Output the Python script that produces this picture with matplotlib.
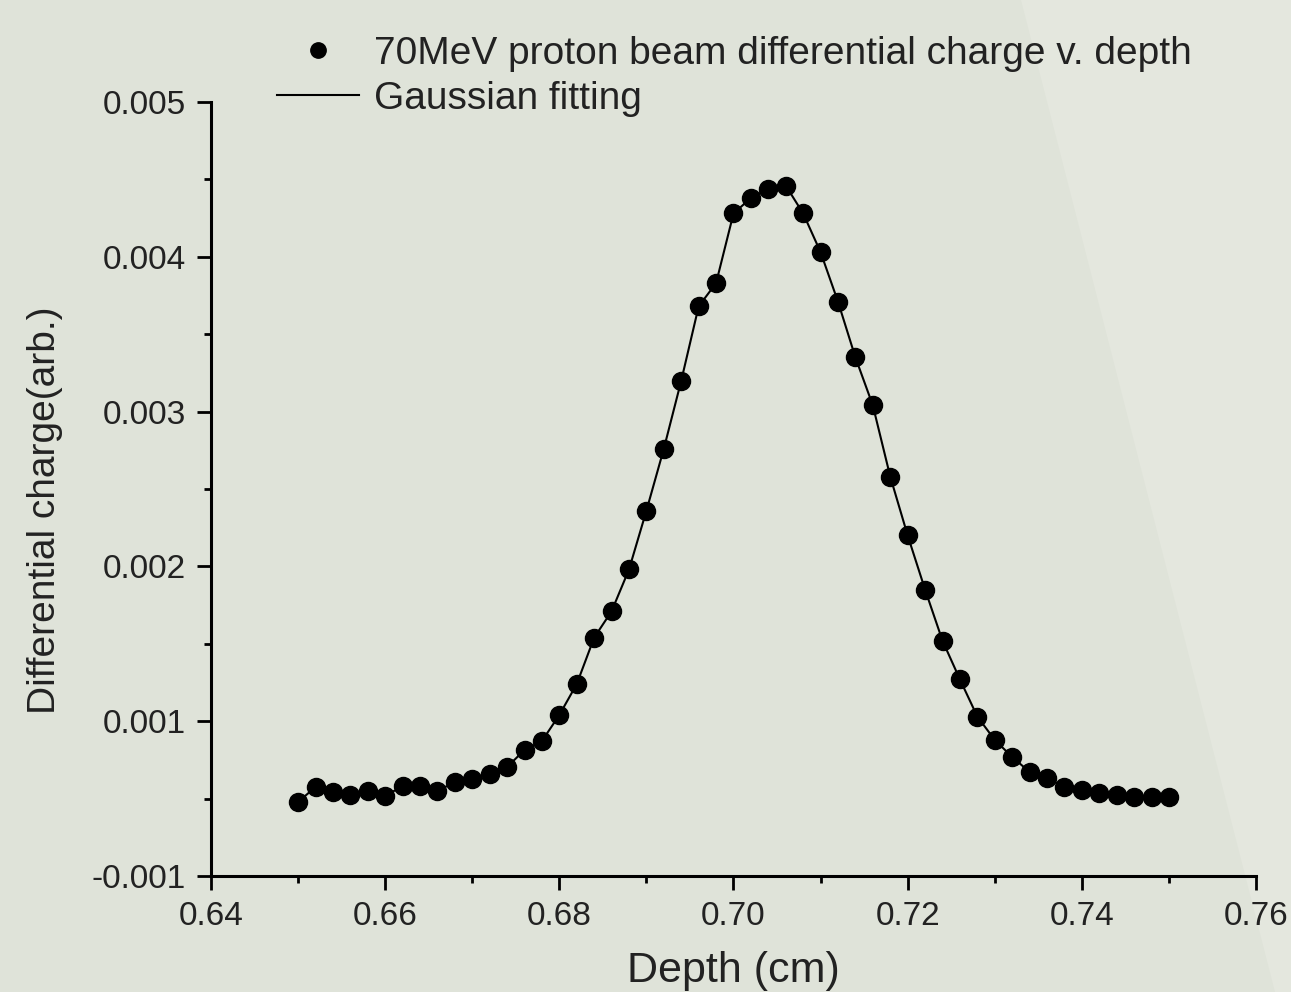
import numpy as np
import matplotlib
matplotlib.use('Agg')
import matplotlib.pyplot as plt
from matplotlib.patches import Polygon

# data
depth = [0.650, 0.652, 0.654, 0.656, 0.658, 0.660, 0.662, 0.664, 0.666, 0.668,
         0.670, 0.672, 0.674, 0.676, 0.678, 0.680, 0.682, 0.684, 0.686, 0.688,
         0.690, 0.692, 0.694, 0.696, 0.698, 0.700, 0.702, 0.704, 0.706, 0.708,
         0.710, 0.712, 0.714, 0.716, 0.718, 0.720, 0.722, 0.724, 0.726, 0.728,
         0.730, 0.732, 0.734, 0.736, 0.738, 0.740, 0.742, 0.744, 0.746, 0.748,
         0.750]
charge = [0.000478, 0.000575, 0.000543, 0.000523, 0.000549, 0.000517, 0.000581, 0.000581, 0.000549, 0.000607,
          0.000627, 0.000659, 0.000704, 0.000814, 0.000872, 0.00104, 0.00124, 0.00154, 0.00171, 0.00198,
          0.00236, 0.00276, 0.00320, 0.00368, 0.00383, 0.00428, 0.00438, 0.00444, 0.00446, 0.00428,
          0.00403, 0.00371, 0.00335, 0.00304, 0.00258, 0.00220, 0.00185, 0.00152, 0.00127, 0.00103,
          0.000879, 0.000769, 0.000672, 0.000633, 0.000575, 0.000556, 0.000536, 0.000523, 0.000510, 0.000510,
          0.000510]

x_ticks = [0.64, 0.66, 0.68, 0.70, 0.72, 0.74, 0.76]
x_labels = ['0.64', '0.66', '0.68', '0.70', '0.72', '0.74', '0.76']
y_ticks = [0.000, 0.001, 0.002, 0.003, 0.004, 0.005]
y_labels = ['-0.001', '0.001', '0.002', '0.003', '0.004', '0.005']

bg = '#dfe3d9'
txt = '#222222'
plt.rcParams['font.family'] = ['Liberation Sans', 'DejaVu Sans']

W, H = 1291, 992
fig = plt.figure(figsize=(W / 100, H / 100), dpi=100, facecolor=bg)

# lighter wedge on the right side of the background
wedge = Polygon([(1021 / W, 1), (1, 1), (1, 0), (1275 / W, 0)], closed=True,
                transform=fig.transFigure, facecolor='#e4e7de', edgecolor='none', zorder=-5)
fig.patches.append(wedge)

ax = fig.add_axes([211 / W, 1 - 876 / H, (1256 - 211) / W, (876 - 102) / H])
ax.set_facecolor('none')
ax.set_zorder(1)

line, = ax.plot(depth, charge, color='black', lw=1.5, zorder=2)
pts, = ax.plot(depth, charge, 'o', color='black', ms=13, zorder=3)

ax.set_xlim(0.64, 0.76)
ax.set_ylim(0.0, 0.005)
ax.set_xticks(x_ticks)
ax.set_xticklabels(x_labels)
ax.set_xticks(np.arange(0.65, 0.76, 0.02), minor=True)
ax.set_yticks(y_ticks)
ax.set_yticklabels(y_labels)
ax.set_yticks(np.arange(0.0005, 0.005, 0.001), minor=True)

for s in ['top', 'right']:
    ax.spines[s].set_visible(False)
for s in ['left', 'bottom']:
    ax.spines[s].set_linewidth(2.2)

ax.tick_params(which='major', direction='out', length=10, width=2, labelsize=24,
               labelcolor=txt, pad=8)
ax.tick_params(which='minor', direction='out', length=5, width=2)

ax.set_xlabel('Depth (cm)', fontsize=31, color=txt, labelpad=14)
ax.set_ylabel('Differential charge(arb.)', fontsize=28, color=txt, va='center')
ax.yaxis.set_label_coords(-0.159, 0.473)

fig.legend([pts, line], ['70MeV proton beam differential charge v. depth', 'Gaussian fitting'],
           loc='upper left', bbox_to_anchor=(277 / W, 1 - 36 / H), frameon=False,
           fontsize=28, handlelength=2.1, handletextpad=0.4, labelspacing=0.22,
           borderpad=0, borderaxespad=0, labelcolor=txt, markerscale=0.85)

fig.savefig('out.png', dpi=100, facecolor=bg)
